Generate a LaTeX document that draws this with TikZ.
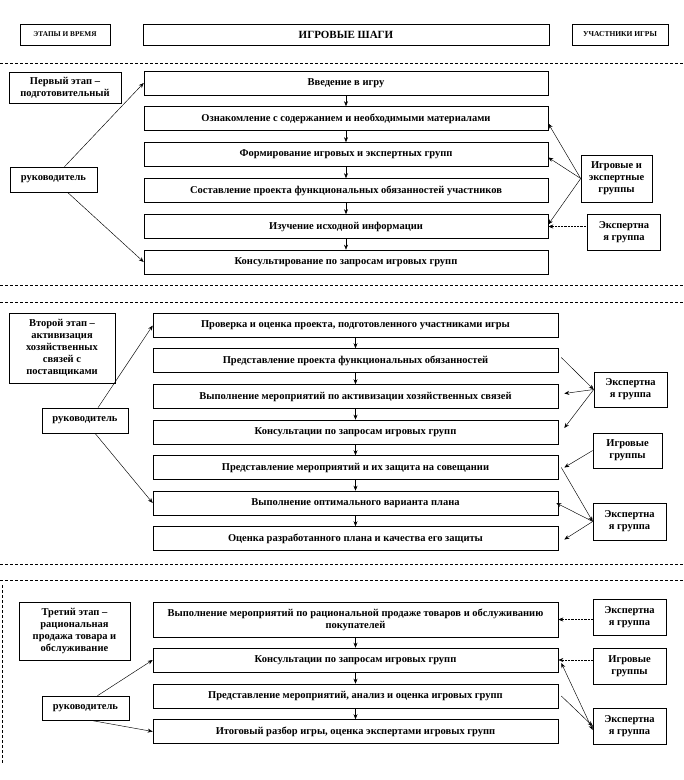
\documentclass[tikz,border=0pt]{standalone}
\usepackage{fontspec}
\setmainfont{Liberation Serif}
\usetikzlibrary{arrows.meta,calc}
\begin{document}
\begin{tikzpicture}[x=1pt,y=-1pt,
 box/.style={draw=black, line width=0.6pt, fill=white, inner sep=1pt, align=center,
   font=\bfseries\fontsize{10.5}{12}\selectfont},
 mainbox/.style={box, minimum width=405pt, minimum height=24pt},
 sidebox/.style={box, minimum width=73pt, minimum height=36pt},
 arr/.style={line width=0.45pt, -{Stealth[length=5pt,width=4pt]}},
 darr/.style={arr, densely dotted},
 barr/.style={line width=0.45pt, {Stealth[length=5pt,width=4pt]}-{Stealth[length=5pt,width=4pt]}},
 sep/.style={line width=0.5pt, dash pattern=on 2.5pt off 2.5pt},
]
\useasboundingbox (0,0) rectangle (684,780);

% header
\node[box, minimum width=90pt, minimum height=21pt, font=\bfseries\fontsize{7.3}{8}\selectfont] (h1) at (65,34.5) {ЭТАПЫ И ВРЕМЯ};
\node[box, minimum width=406pt, minimum height=21pt, font=\bfseries\fontsize{11}{12}\selectfont] (h2) at (346,34.5) {ИГРОВЫЕ ШАГИ};
\node[box, minimum width=96pt, minimum height=21pt, font=\bfseries\fontsize{7.5}{8}\selectfont] (h3) at (620,34.5) {УЧАСТНИКИ ИГРЫ};

\draw[sep] (0,63) -- (684,63);

% section 1
\node[box, minimum width=112pt, minimum height=31pt] (p1) at (65,87.5) {Первый этап –\\подготовительный};
\node[box, minimum width=87pt, minimum height=25pt] (r1) at (53.5,179.5) {руководитель};

\node[mainbox, minimum width=404pt] (a1) at (346,83) {Введение в игру};
\node[mainbox, minimum width=404pt] (a2) at (346,118.5) {Ознакомление с содержанием и необходимыми материалами};
\node[mainbox, minimum width=404pt] (a3) at (346,154.5) {Формирование игровых и экспертных групп};
\node[mainbox, minimum width=404pt] (a4) at (346,190.5) {Составление проекта функциональных обязанностей участников};
\node[mainbox, minimum width=404pt] (a5) at (346,226.5) {Изучение исходной информации};
\node[mainbox, minimum width=404pt] (a6) at (346,262) {Консультирование по запросам игровых групп};

\node[sidebox, minimum width=71pt, minimum height=47pt] (g1) at (616.5,178.5) {Игровые и\\экспертные\\группы};
\node[sidebox] (e1) at (624,232) {Экспертна\\я группа};

\foreach \u/\v in {a1/a2,a2/a3,a3/a4,a4/a5,a5/a6}
  \draw[arr] (\u.south) -- (\v.north);

\draw[arr] ([xshift=11pt]r1.north) -- (a1.west);
\draw[arr] ([xshift=14pt]r1.south) -- (a6.west);
\draw[arr] (g1.west) -- ([yshift=-5pt]a2.east);
\draw[arr] (g1.west) -- ([yshift=-3pt]a3.east);
\draw[arr] (g1.west) -- ([yshift=2pt]a5.east);
\draw[darr] (e1.west |- a5.east) -- (a5.east);

\draw[sep] (0,285) -- (684,285);
\draw[sep] (0,302) -- (684,302);

% section 2
\node[box, minimum width=106pt, minimum height=70pt] (p2) at (62,348) {Второй этап –\\активизация\\хозяйственных\\связей с\\поставщиками};
\node[box, minimum width=86pt, minimum height=25pt] (r2) at (85,420.5) {руководитель};

\node[mainbox] (b1) at (355.5,325.5) {Проверка и оценка проекта, подготовленного участниками игры};
\node[mainbox] (b2) at (355.5,360.5) {Представление проекта функциональных обязанностей};
\node[mainbox] (b3) at (355.5,396.5) {Выполнение мероприятий по активизации хозяйственных связей};
\node[mainbox] (b4) at (355.5,432) {Консультации по запросам игровых групп};
\node[mainbox] (b5) at (355.5,467.5) {Представление мероприятий и их защита на совещании};
\node[mainbox] (b6) at (355.5,503) {Выполнение оптимального варианта плана};
\node[mainbox] (b7) at (355.5,538.5) {Оценка разработанного плана и качества его защиты};

\node[sidebox, minimum height=35pt] (e2) at (630.5,389.5) {Экспертна\\я группа};
\node[sidebox, minimum width=69pt, minimum height=35pt] (g2) at (627.5,450.5) {Игровые\\группы};
\node[sidebox, minimum height=37pt] (e3) at (629.5,521.5) {Экспертна\\я группа};

\foreach \u/\v in {b1/b2,b2/b3,b3/b4,b4/b5,b5/b6,b6/b7}
  \draw[arr] (\u.south) -- (\v.north);

\draw[arr] ([xshift=13pt]r2.north) -- (b1.west);
\draw[arr] ([xshift=10pt]r2.south) -- (b6.west);
\draw[arr] ([xshift=3pt,yshift=3pt]b2.east) -- (e2.west);
\draw[arr] (e2.west) -- ([xshift=6pt,yshift=3pt]b3.east);
\draw[arr] (e2.west) -- ([xshift=6pt,yshift=4pt]b4.east);
\draw[arr] (g2.west) -- ([xshift=6pt]b5.east);
\draw[arr] ([xshift=3pt]b5.east) -- (e3.west);
\draw[arr] (e3.west) -- ([xshift=-2pt]b6.east);
\draw[arr] (e3.west) -- ([xshift=6pt,yshift=-1pt]b7.east);

\draw[sep] (0,564) -- (684,564);
\draw[sep] (0,580) -- (684,580);
\draw[sep] (2,585) -- (2,763);

% section 3
\node[box, minimum width=111pt, minimum height=58pt] (p3) at (74.5,631) {Третий этап –\\рациональная\\продажа товара и\\обслуживание};
\node[box, minimum width=87pt, minimum height=24pt] (r3) at (85.5,708) {руководитель};

\node[mainbox, minimum height=35pt] (c1) at (355.5,619.5) {Выполнение мероприятий по рациональной продаже товаров и обслуживанию\\покупателей};
\node[mainbox] (c2) at (355.5,660) {Консультации по запросам игровых групп};
\node[mainbox] (c3) at (355.5,696) {Представление мероприятий, анализ и оценка игровых групп};
\node[mainbox] (c4) at (355.5,731.5) {Итоговый разбор игры, оценка экспертами игровых групп};

\node[sidebox] (e4) at (629.5,617) {Экспертна\\я группа};
\node[sidebox] (g3) at (629.5,666) {Игровые\\группы};
\node[sidebox] (e5) at (629.5,726) {Экспертна\\я группа};

\foreach \u/\v in {c1/c2,c2/c3,c3/c4}
  \draw[arr] (\u.south) -- (\v.north);

\draw[arr] ([xshift=12pt]r3.north) -- (c2.west);
\draw[arr] ([xshift=5pt]r3.south) -- (c4.west);
\draw[darr] (e4.west |- c1.east) -- (c1.east);
\draw[darr] (g3.west |- c2.east) -- (c2.east);
\draw[barr] ([xshift=3pt,yshift=-3pt]c2.east) -- ([yshift=-4pt]e5.west);
\draw[arr] ([xshift=3pt]c3.east) -- (e5.west);
\end{tikzpicture}
\end{document}
